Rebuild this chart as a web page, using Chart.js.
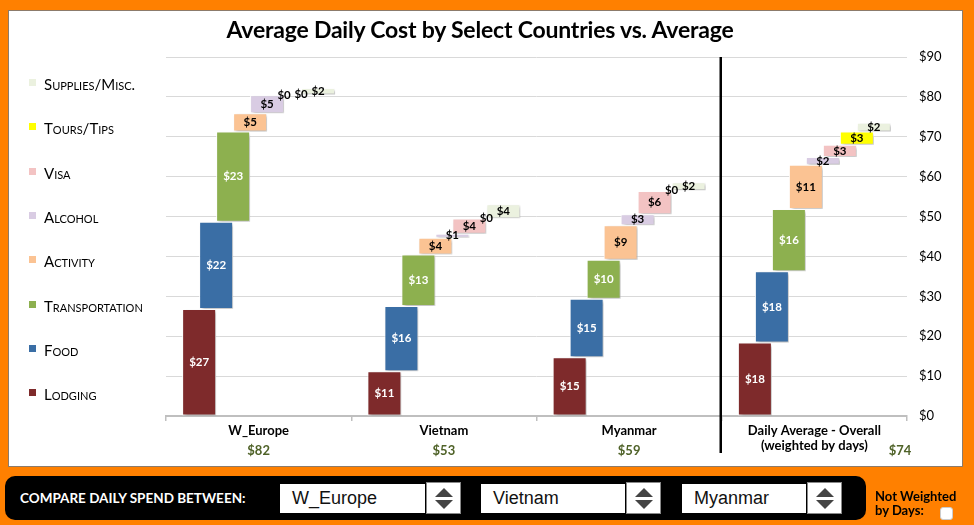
<!DOCTYPE html>
<html><head><meta charset="utf-8">
<script src="https://cdn.jsdelivr.net/npm/chart.js@4.4.1/dist/chart.umd.min.js"></script>
<style>
html,body{margin:0;padding:0;}
body{width:974px;height:525px;background:#FF8000;position:relative;overflow:hidden;font-family:Lato,sans-serif;}
#panel{position:absolute;left:8px;top:10px;width:953px;height:455px;background:#fff;border:1px solid #8c7b6b;}
#c{position:absolute;left:0;top:0;}
#title{position:absolute;left:0;width:960px;top:15px;text-align:center;font:bold 23px Lato,sans-serif;color:#000;letter-spacing:-0.2px;}
.lg{position:absolute;left:29px;height:16px;line-height:16px;font:15px Lato,sans-serif;font-variant:small-caps;color:#000;}
.lg i{position:absolute;left:0;top:4px;width:7px;height:7px;}
.lg span{position:absolute;left:15px;top:0;white-space:nowrap;}
#bar{position:absolute;left:5px;top:476px;width:861px;height:44px;background:#000;border-radius:10px;}
#cmp{position:absolute;left:20px;top:490px;font:bold 13.5px Lato,sans-serif;color:#fff;white-space:nowrap;}
.box{position:absolute;top:484px;height:29px;background:#fff;font:18px "Liberation Sans",Arial,sans-serif;color:#111;line-height:29px;padding-left:12px;box-sizing:border-box;}
.spin{position:absolute;top:482px;height:32px;width:35px;background:#fff;border:1px solid #888;box-sizing:border-box;}
.spin .u{position:absolute;left:8px;top:5px;width:0;height:0;border-left:9px solid transparent;border-right:9px solid transparent;border-bottom:9px solid #444;}
.spin .d{position:absolute;left:8px;top:17px;width:0;height:0;border-left:9px solid transparent;border-right:9px solid transparent;border-top:9px solid #444;}
#nw{position:absolute;left:875px;top:489px;font:bold 13px Lato,sans-serif;color:#000;line-height:14px;}
#cb{position:absolute;left:940px;top:507px;width:13px;height:13px;background:#fff;border-radius:3px;border:1px solid #ccc;box-sizing:border-box;}
</style></head>
<body>
<div id="panel"></div>
<canvas id="c" width="974" height="525"></canvas>
<div id="title">Average Daily Cost by Select Countries vs. Average</div>
<div id="legend"></div>
<div id="bar"></div>
<div id="cmp">COMPARE DAILY SPEND BETWEEN:</div>
<div class="box" style="left:280px;width:145px;">W_Europe</div>
<div class="spin" style="left:426px;"><div class="u"></div><div class="d"></div></div>
<div class="box" style="left:481px;width:144px;">Vietnam</div>
<div class="spin" style="left:626px;"><div class="u"></div><div class="d"></div></div>
<div class="box" style="left:682px;width:124px;">Myanmar</div>
<div class="spin" style="left:807px;"><div class="u"></div><div class="d"></div></div>
<div id="nw">Not Weighted<br>by Days:</div>
<div id="cb"></div>
<script>
const categories = ['W_Europe', 'Vietnam', 'Myanmar', ['Daily Average - Overall', '(weighted by days)']];
const totals = [82, 53, 59, 74];
const seriesNames = ['Lodging', 'Food', 'Transportation', 'Activity', 'Alcohol', 'Visa', 'Tours/Tips', 'Supplies/Misc.'];
const lodging        = [26.8, 11.2, 14.7, 18.4];
const food           = [21.9, 16.4, 14.7, 17.9];
const transportation = [22.6, 12.9,  9.8, 15.6];
const activity       = [ 4.6,  4.2,  8.6, 11.1];
const alcohol        = [ 4.5,  1.0,  2.8,  1.9];
const visa           = [ 0.1,  3.8,  5.8,  3.1];
const toursTips      = [ 0.1,  0.1,  0.2,  3.3];
const supplies       = [ 1.6,  3.5,  2.0,  2.2];
const yTicks = [0, 10, 20, 30, 40, 50, 60, 70, 80, 90];

const series = [lodging, food, transportation, activity, alcohol, visa, toursTips, supplies];
const colors = ['#7E2A2B', '#3A6EA5', '#8DB04F', '#FBC393', '#D9CCE3', '#F3C3C3', '#FFFF00', '#EBF1DF'];
const labelColors = ['#fff', '#fff', '#fff', '#000', '#000', '#000', '#000', '#000'];

// legend (HTML, small caps)
const lg = document.getElementById('legend');
seriesNames.slice().reverse().forEach((n, k) => {
  const idx = seriesNames.length - 1 - k;
  const d = document.createElement('div');
  d.className = 'lg';
  d.style.top = (75 + k * 44.3) + 'px';
  d.innerHTML = '<i style="background:' + colors[idx] + '"></i><span>' + n + '</span>';
  lg.appendChild(d);
});

// waterfall ranges
const cum = categories.map(() => 0);
const datasets = series.map((s, i) => {
  const data = s.map((v, j) => { const a = cum[j]; cum[j] += v; return [a, cum[j]]; });
  return {
    label: seriesNames[i], data,
    backgroundColor: colors[i], borderColor: '#ffffff', borderWidth: 1,
    categoryPercentage: 0.734, barPercentage: 2, borderSkipped: false
  };
});

const shadowPlugin = {
  id: 'shadow',
  beforeDatasetsDraw(chart) {
    const ctx = chart.ctx; ctx.save();
    ctx.shadowColor = 'rgba(0,0,0,0.28)'; ctx.shadowBlur = 3; ctx.shadowOffsetX = 2; ctx.shadowOffsetY = 2;
  },
  afterDatasetsDraw(chart) { chart.ctx.restore(); }
};
const labelPlugin = {
  id: 'vals',
  afterDatasetsDraw(chart) {
    const ctx = chart.ctx; ctx.save();
    ctx.font = 'bold 11.5px Lato, sans-serif'; ctx.textAlign = 'center'; ctx.textBaseline = 'middle';
    chart.data.datasets.forEach((ds, i) => {
      chart.getDatasetMeta(i).data.forEach((bar, j) => {
        const p = bar.getProps(['x', 'y', 'base'], true);
        ctx.fillStyle = labelColors[i];
        ctx.fillText('$' + Math.round(series[i][j]), p.x, (p.y + p.base) / 2);
      });
    });
    ctx.restore();
  },
  afterDraw(chart) {
    const ctx = chart.ctx, xs = chart.scales.x, area = chart.chartArea;
    ctx.save();
    const xd = (xs.getPixelForValue(2) + xs.getPixelForValue(3)) / 2 - 1;
    ctx.strokeStyle = '#000'; ctx.lineWidth = 2.5;
    ctx.beginPath(); ctx.moveTo(xd, area.top); ctx.lineTo(xd, 453); ctx.stroke();
    ctx.font = 'bold 13px Lato, sans-serif'; ctx.fillStyle = '#4F6228';
    ctx.textAlign = 'center'; ctx.textBaseline = 'middle';
    totals.forEach((t, j) => {
      let x = xs.getPixelForValue(j);
      if (j === totals.length - 1) x = area.right - 7;
      ctx.fillText('$' + t, x, 451);
    });
    ctx.restore();
  }
};

new Chart(document.getElementById('c'), {
  type: 'bar',
  data: { labels: categories, datasets },
  options: {
    responsive: false, animation: false,
    layout: { padding: { left: 166, right: 7, top: 57, bottom: 69 } },
    plugins: { legend: { display: false }, title: { display: false }, tooltip: { enabled: false } },
    scales: {
      x: {
        afterFit(s) { s.height = 40; },
        grid: { offset: true, drawOnChartArea: false, drawTicks: true, tickLength: 5, color: '#BFBFBF', lineWidth: 1.5 },
        border: { display: true, color: '#BFBFBF', width: 2 },
        ticks: { font: { family: 'Lato', weight: 'bold', size: 13, lineHeight: 1.15 }, color: '#000', padding: 2, maxRotation: 0, autoSkip: false }
      },
      y: {
        position: 'right', min: 0, max: 90,
        afterFit(s) { s.width = 60; },
        afterBuildTicks(s) { s.ticks = yTicks.map(v => ({ value: v })); },
        grid: { color: '#D9D9D9', lineWidth: 1, drawTicks: false },
        border: { display: false },
        ticks: { callback: v => '$' + v, font: { family: 'Lato', size: 13 }, color: '#000', padding: 12 }
      }
    }
  },
  plugins: [shadowPlugin, labelPlugin]
});
</script>
</body></html>
